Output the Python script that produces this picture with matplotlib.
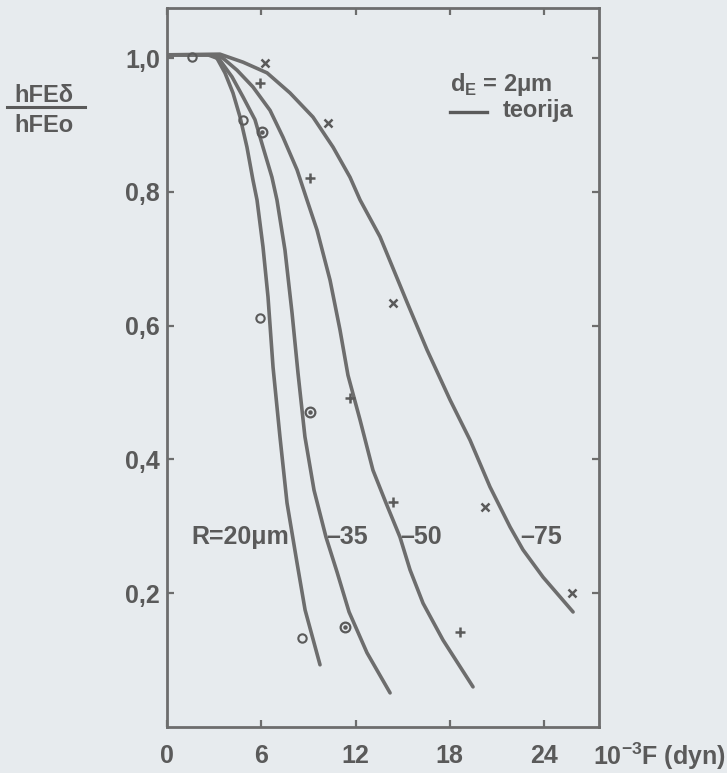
import matplotlib
matplotlib.use('Agg')
import matplotlib.pyplot as plt

# ---------------- data ----------------
x_ticks = [0, 6, 12, 18, 24]
x_tick_labels = ['0', '6', '12', '18', '24']
y_ticks = [0.2, 0.4, 0.6, 0.8, 1.0]
y_tick_labels = ['0,2', '0,4', '0,6', '0,8', '1,0']

# theory curves (teorija)
r20_x = [0, 2.6, 3.18, 3.69, 4.20, 4.65, 5.09, 5.47, 5.73, 6.11, 6.43, 6.75, 7.19, 7.64, 8.28, 8.79, 9.74]
r20_y = [1.005, 1.005, 1.000, 0.978, 0.948, 0.912, 0.867, 0.818, 0.788, 0.718, 0.643, 0.538, 0.434, 0.335, 0.245, 0.175, 0.093]

r35_x = [0, 2.86, 3.37, 4.14, 4.84, 5.60, 6.11, 6.68, 7.00, 7.51, 7.96, 8.34, 8.78, 9.36, 10.12, 10.82, 11.59, 12.73, 14.20]
r35_y = [1.005, 1.005, 0.997, 0.972, 0.942, 0.908, 0.867, 0.822, 0.788, 0.713, 0.619, 0.529, 0.434, 0.354, 0.284, 0.232, 0.172, 0.111, 0.051]

r50_x = [0, 2.99, 3.56, 4.46, 5.47, 6.56, 7.38, 8.28, 8.91, 9.55, 10.38, 11.01, 11.52, 12.29, 13.11, 13.94, 14.83, 15.47, 16.30, 17.57, 19.48]
r50_y = [1.005, 1.005, 1.000, 0.982, 0.957, 0.922, 0.882, 0.833, 0.788, 0.743, 0.668, 0.594, 0.526, 0.459, 0.384, 0.335, 0.284, 0.235, 0.185, 0.130, 0.060]

r75_x = [0, 3.37, 4.84, 6.37, 7.83, 9.29, 10.57, 11.65, 12.29, 13.56, 15.28, 16.55, 18.02, 19.29, 20.56, 21.84, 22.66, 23.94, 25.85]
r75_y = [1.005, 1.006, 0.994, 0.978, 0.948, 0.912, 0.867, 0.822, 0.788, 0.733, 0.635, 0.564, 0.489, 0.429, 0.359, 0.299, 0.265, 0.224, 0.172]

# measured points
m20_x = [1.59, 4.84, 5.92, 8.59]
m20_y = [1.002, 0.908, 0.611, 0.133]
m35_x = [6.05, 9.10, 11.33]
m35_y = [0.890, 0.471, 0.150]
m50_x = [5.92, 9.10, 11.65, 14.39, 18.65]
m50_y = [0.963, 0.821, 0.492, 0.336, 0.142]
m75_x = [6.24, 10.25, 14.39, 20.24, 25.78]
m75_y = [0.993, 0.903, 0.634, 0.329, 0.200]

curve_labels = ['R=20μm', '–35', '–50', '–75']

# ---------------- styling ----------------
BG = '#e7ebee'
INK = '#5a5a5a'
LINE = '#6d6d6d'

plt.rcParams['font.family'] = ['Liberation Sans', 'DejaVu Sans']

fig = plt.figure(figsize=(7.27, 7.73), dpi=100, facecolor=BG)
ax = fig.add_axes([167/727, 46/773, 432/727, 719/773])
ax.set_facecolor(BG)

for xs, ys in [(r20_x, r20_y), (r35_x, r35_y), (r50_x, r50_y), (r75_x, r75_y)]:
    ax.plot(xs, ys, color=LINE, lw=2.6, solid_joinstyle='round', solid_capstyle='round')

ax.plot(m20_x, m20_y, 'o', ms=6, mfc='none', mec=INK, mew=1.5, ls='none')
ax.plot(m35_x, m35_y, 'o', ms=7, mfc='none', mec=INK, mew=1.6, ls='none')
ax.plot(m35_x, m35_y, 'o', ms=2.2, mfc=INK, mec=INK, ls='none')
ax.plot(m50_x, m50_y, '+', ms=7, mec=INK, mew=1.8, ls='none')
ax.plot(m75_x, m75_y, 'x', ms=6, mec=INK, mew=1.8, ls='none')

ax.set_xlim(0, 27.5)
ax.set_ylim(0, 1.075)
ax.set_xticks(x_ticks)
ax.set_xticklabels(x_tick_labels)
ax.set_yticks(y_ticks)
ax.set_yticklabels(y_tick_labels)

ax.tick_params(direction='in', length=5, width=1.6, color=LINE,
               top=True, right=True, labelsize=18, labelcolor=INK)
ax.tick_params(axis='x', pad=12)
ax.tick_params(axis='y', pad=5)
for lab in ax.get_xticklabels() + ax.get_yticklabels():
    lab.set_fontweight('bold')
for sp in ax.spines.values():
    sp.set_color(LINE)
    sp.set_linewidth(2.0)

tkw = dict(color=INK, fontsize=18, fontweight='bold', va='center')
# curve labels
ax.text(7.75, 0.284, curve_labels[0], ha='right', **tkw)
ax.text(10.12, 0.284, curve_labels[1], ha='left', **tkw)
ax.text(14.83, 0.284, curve_labels[2], ha='left', **tkw)
ax.text(22.47, 0.284, curve_labels[3], ha='left', **tkw)

# legend block
lkw = dict(color=INK, fontsize=17, fontweight='bold', va='center')
ax.text(0.655, 0.893, 'd$_\\mathregular{E}$ = 2μm', transform=ax.transAxes, ha='left', **lkw)
ax.plot([0.655, 0.741], [0.855, 0.855], transform=ax.transAxes, color=INK, lw=2.4)
ax.text(0.778, 0.857, 'teorija', transform=ax.transAxes, ha='left', **lkw)

# y label as a fraction
fig.text(0.061, 0.877, 'hFEδ', ha='center', **lkw)
fig.add_artist(plt.Line2D([0.010, 0.117], [0.861, 0.861], transform=fig.transFigure, color=INK, lw=2.2))
fig.text(0.061, 0.837, 'hFEo', ha='center', **lkw)

# x label
fig.text(0.999, 0.021, '10$^\\mathregular{-3}$F (dyn)', ha='right', **tkw)

fig.savefig('out.png', dpi=100, facecolor=BG)
